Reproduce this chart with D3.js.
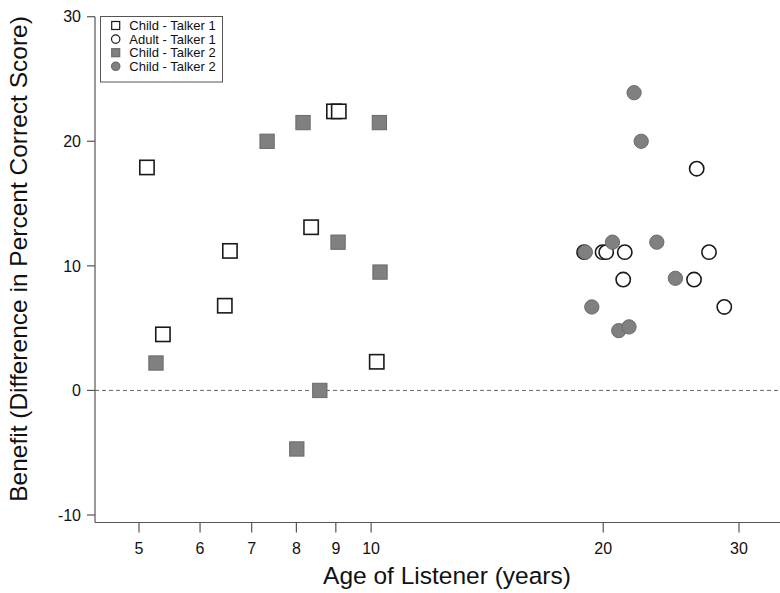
<!DOCTYPE html>
<html>
<head>
<meta charset="utf-8">
<script src="https://cdn.jsdelivr.net/npm/d3@7"></script>
<style>
  body { margin: 0; background: #fff; }
  svg { display: block; font-family: "Liberation Sans", Arial, sans-serif; }
</style>
</head>
<body>
<svg id="chart" width="780" height="593"></svg>
<script>
const WIDTH = 780;
const HEIGHT = 593;

// ages (years) and benefit (% correct difference) for each group
const childTalker1Age = [5.12, 5.37, 6.46, 6.56, 8.36, 8.95, 9.08, 10.17];
const childTalker1Benefit = [17.9, 4.5, 6.8, 11.2, 13.1, 22.4, 22.4, 2.3];

const adultTalker1Age = [26.44, 18.89, 19.96, 20.18, 21.33, 27.43, 21.23, 26.23, 28.71];
const adultTalker1Benefit = [17.8, 11.1, 11.1, 11.1, 11.1, 11.1, 8.9, 8.9, 6.7];

const childTalker2SqAge = [5.26, 7.33, 8.16, 9.06, 10.25, 10.27, 8.58, 8.01];
const childTalker2SqBenefit = [2.2, 20.0, 21.5, 11.9, 21.5, 9.5, 0.0, -4.7];

const childTalker2CircAge = [21.93, 22.4, 20.56, 23.47, 18.96, 24.81, 19.33, 20.95, 21.6];
const childTalker2CircBenefit = [23.9, 20.0, 11.9, 11.9, 11.1, 9.0, 6.7, 4.8, 5.1];

const xTicks = [5, 6, 7, 8, 9, 10, 20, 30];
const yTicks = [-10, 0, 10, 20, 30];
const legendLabels = ["Child - Talker 1", "Adult - Talker 1", "Child - Talker 2", "Child - Talker 2"];

const svg = d3.select("#chart");

const plotLeft = 95, plotRight = WIDTH, plotTop = 16.7, plotBottom = 522.5;

// log scale on age, matched so that 5 and 30 land where the original had them
const x = d3.scaleLog().domain([5, 30]).range([139, 739]);
const y = d3.scaleLinear().domain([-10, 30]).range([515, 16.7]);

const axisColor = "#555";
const textColor = "#111";

// axis lines (frame corner)
svg.append("line")
    .attr("x1", plotLeft).attr("x2", plotLeft)
    .attr("y1", plotTop).attr("y2", plotBottom)
    .attr("stroke", axisColor).attr("stroke-width", 1.2);
svg.append("line")
    .attr("x1", plotLeft).attr("x2", plotRight)
    .attr("y1", plotBottom).attr("y2", plotBottom)
    .attr("stroke", axisColor).attr("stroke-width", 1.2);

// y ticks
const yAxis = svg.append("g");
yAxis.selectAll("line")
    .data(yTicks)
    .join("line")
    .attr("x1", plotLeft - 8).attr("x2", plotLeft)
    .attr("y1", d => y(d)).attr("y2", d => y(d))
    .attr("stroke", axisColor).attr("stroke-width", 1.2);
yAxis.selectAll("text")
    .data(yTicks)
    .join("text")
    .attr("x", plotLeft - 14)
    .attr("y", d => y(d))
    .attr("dy", "0.36em")
    .attr("text-anchor", "end")
    .attr("font-size", 16)
    .attr("fill", textColor)
    .text(d => d);

// x ticks
const xAxis = svg.append("g");
xAxis.selectAll("line")
    .data(xTicks)
    .join("line")
    .attr("x1", d => x(d)).attr("x2", d => x(d))
    .attr("y1", plotBottom).attr("y2", plotBottom + 10)
    .attr("stroke", axisColor).attr("stroke-width", 1.2);
xAxis.selectAll("text")
    .data(xTicks)
    .join("text")
    .attr("x", d => x(d))
    .attr("y", 554)
    .attr("text-anchor", "middle")
    .attr("font-size", 16)
    .attr("fill", textColor)
    .text(d => d);

// zero reference line
svg.append("line")
    .attr("x1", plotLeft).attr("x2", plotRight)
    .attr("y1", y(0)).attr("y2", y(0))
    .attr("stroke", "#666")
    .attr("stroke-width", 1)
    .attr("stroke-dasharray", "4,3");

// axis titles
svg.append("text")
    .attr("x", 447).attr("y", 584)
    .attr("text-anchor", "middle")
    .attr("font-size", 24.5)
    .attr("fill", textColor)
    .text("Age of Listener (years)");

svg.append("text")
    .attr("transform", "translate(27,259) rotate(-90)")
    .attr("text-anchor", "middle")
    .attr("font-size", 24.5)
    .attr("fill", textColor)
    .text("Benefit (Difference in Percent Correct Score)");

const SIZE = 14.3;
const grey = "#808080";
const greyStroke = "#6a6a6a";

function toPoints(ages, values) {
    return ages.map((a, i) => ({ age: a, value: values[i] }));
}

function drawSquares(points, fill, stroke, width) {
    svg.append("g").selectAll("rect")
        .data(points)
        .join("rect")
        .attr("x", d => x(d.age) - SIZE / 2)
        .attr("y", d => y(d.value) - SIZE / 2)
        .attr("width", SIZE).attr("height", SIZE)
        .attr("fill", fill)
        .attr("stroke", stroke)
        .attr("stroke-width", width);
}

function drawCircles(points, fill, stroke, width) {
    svg.append("g").selectAll("circle")
        .data(points)
        .join("circle")
        .attr("cx", d => x(d.age))
        .attr("cy", d => y(d.value))
        .attr("r", SIZE / 2)
        .attr("fill", fill)
        .attr("stroke", stroke)
        .attr("stroke-width", width);
}

drawSquares(toPoints(childTalker1Age, childTalker1Benefit), "white", "#1a1a1a", 1.6);
drawCircles(toPoints(adultTalker1Age, adultTalker1Benefit), "white", "#1a1a1a", 1.6);
drawSquares(toPoints(childTalker2SqAge, childTalker2SqBenefit), grey, greyStroke, 1);
drawCircles(toPoints(childTalker2CircAge, childTalker2CircBenefit), grey, greyStroke, 1);

// legend
const legend = svg.append("g");
legend.append("rect")
    .attr("x", 100.5).attr("y", 16.5)
    .attr("width", 122).attr("height", 65.5)
    .attr("fill", "white")
    .attr("stroke", "#555")
    .attr("stroke-width", 1);

const legendMarks = [
    { shape: "square", fill: "white", stroke: "#1a1a1a" },
    { shape: "circle", fill: "white", stroke: "#1a1a1a" },
    { shape: "square", fill: grey, stroke: greyStroke },
    { shape: "circle", fill: grey, stroke: greyStroke }
];

legendLabels.forEach((label, i) => {
    const cy = 25.5 + i * 13.6;
    const m = legendMarks[i];
    if (m.shape === "square") {
        legend.append("rect")
            .attr("x", 115.7 - 4).attr("y", cy - 4)
            .attr("width", 8).attr("height", 8)
            .attr("fill", m.fill).attr("stroke", m.stroke).attr("stroke-width", 1.2);
    } else {
        legend.append("circle")
            .attr("cx", 115.7).attr("cy", cy).attr("r", 4.2)
            .attr("fill", m.fill).attr("stroke", m.stroke).attr("stroke-width", 1.2);
    }
    legend.append("text")
        .attr("x", 129.3).attr("y", cy)
        .attr("dy", "0.36em")
        .attr("font-size", 13)
        .attr("fill", textColor)
        .text(label);
});
</script>
</body>
</html>
